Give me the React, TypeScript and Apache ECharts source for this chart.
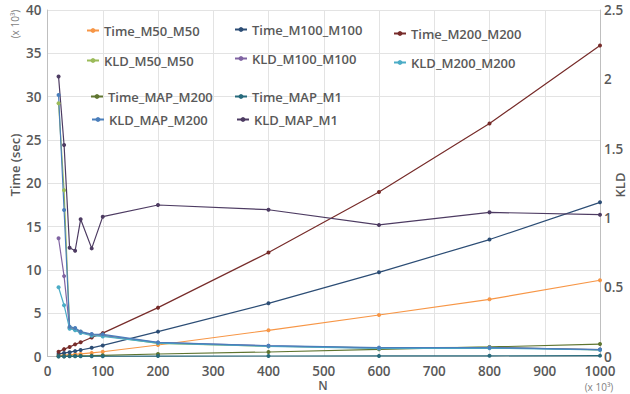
import React, { useEffect, useRef } from "react";
import * as echarts from "echarts";

// Problem size N (x 10^3)
const nValues = [20, 30, 40, 50, 60, 80, 100, 200, 400, 600, 800, 1000];

// Run times (x 10^3 sec), left axis
const timeM50 = [0.1, 0.15, 0.2, 0.25, 0.3, 0.42, 0.55, 1.33, 3.02, 4.79, 6.6, 8.8];
const timeM100 = [0.3, 0.4, 0.5, 0.62, 0.75, 1.0, 1.28, 2.87, 6.14, 9.72, 13.5, 17.8];
const timeM200 = [0.55, 0.85, 1.1, 1.4, 1.65, 2.2, 2.7, 5.64, 12.0, 19.0, 26.9, 35.9];
const timeMapM200 = [0.03, 0.04, 0.05, 0.06, 0.08, 0.1, 0.14, 0.29, 0.52, 0.83, 1.1, 1.44];
const timeMapM1 = [0.01, 0.01, 0.02, 0.02, 0.02, 0.03, 0.03, 0.05, 0.06, 0.07, 0.08, 0.1];

// KL divergence, right axis
const kldM50 = [1.827, 1.2, 0.21, 0.2, 0.178, 0.155, 0.15, 0.095, 0.074, 0.062, 0.066, 0.048];
const kldM100 = [0.853, 0.58, 0.205, 0.195, 0.175, 0.158, 0.152, 0.1, 0.077, 0.06, 0.065, 0.05];
const kldM200 = [0.5, 0.37, 0.2, 0.19, 0.17, 0.15, 0.145, 0.097, 0.073, 0.058, 0.06, 0.047];
const kldMapM200 = [1.887, 1.057, 0.215, 0.205, 0.18, 0.162, 0.16, 0.102, 0.078, 0.064, 0.064, 0.05];
const kldMapM1 = [2.02, 1.526, 0.785, 0.763, 0.99, 0.78, 1.009, 1.093, 1.059, 0.949, 1.04, 1.023];

// Axis ranges
const timeMax = 40;
const timeStep = 5;
const kldMax = 2.5;
const kldStep = 0.5;
const nMax = 1000;
const nStep = 100;

const FONT = "'Open Sans', 'Noto Sans', sans-serif";
const GREY = "#595959";

function lineSeries(name: string, values: number[], color: string, yAxisIndex: number) {
  return {
    name,
    type: "line",
    yAxisIndex,
    data: nValues.map((n, i) => [n, values[i]]),
    symbol: "circle",
    symbolSize: 4,
    showSymbol: true,
    lineStyle: { width: 1.2, color },
    itemStyle: { color },
    emphasis: { disabled: true },
  };
}

export default function App() {
  const ref = useRef<HTMLDivElement>(null);

  useEffect(() => {
    if (!ref.current) return;
    const chart = echarts.init(ref.current, null, { renderer: "svg" });

    const legendText = { fontFamily: FONT, fontSize: 13, fontWeight: 600, color: GREY };
    const legendAt = (name: string, left: number, top: number) => ({
      data: [name],
      left,
      top,
      itemWidth: 12,
      itemHeight: 6,
      padding: 0,
      textStyle: legendText,
    });

    const axisLabel = { fontFamily: FONT, fontSize: 13.5, fontWeight: 600, color: GREY, lineHeight: 14 };
    const axisLine = { show: true, lineStyle: { color: "#BFBFBF", width: 1 } };
    const grid = { show: true, lineStyle: { color: "#E3E3E3", width: 1 } };
    const plain = (v: number) => String(v);

    chart.setOption({
      animation: false,
      backgroundColor: "#ffffff",
      grid: { left: 47.5, right: 30, top: 10, bottom: 37.5 },
      legend: [
        legendAt("Time_M50_M50", 86, 24),
        legendAt("Time_M100_M100", 234, 23),
        legendAt("Time_M200_M200", 393, 27),
        legendAt("KLD_M50_M50", 86, 54),
        legendAt("KLD_M100_M100", 234, 52),
        legendAt("KLD_M200_M200", 393, 56),
        legendAt("Time_MAP_M200", 90, 90),
        legendAt("Time_MAP_M1", 234, 90),
        legendAt("KLD_MAP_M200", 91, 113),
        legendAt("KLD_MAP_M1", 236, 113),
      ],
      xAxis: {
        type: "value",
        min: 0,
        max: nMax,
        interval: nStep,
        axisLine,
        axisTick: { show: false },
        axisLabel: { ...axisLabel, margin: 7, formatter: plain },
        splitLine: grid,
      },
      yAxis: [
        {
          type: "value",
          min: 0,
          max: timeMax,
          interval: timeStep,
          axisLine,
          axisTick: { show: false },
          axisLabel: { ...axisLabel, margin: 6, formatter: plain },
          splitLine: grid,
        },
        {
          type: "value",
          min: 0,
          max: kldMax,
          interval: kldStep,
          position: "right",
          axisLine,
          axisTick: { show: false },
          axisLabel: { ...axisLabel, margin: 4, formatter: plain },
          splitLine: { show: false },
        },
      ],
      graphic: [
        {
          type: "text",
          x: 15,
          y: 165,
          rotation: Math.PI / 2,
          style: { text: "Time (sec)", align: "center", verticalAlign: "middle", font: `600 13px ${FONT}`, fill: GREY },
        },
        {
          type: "text",
          x: 15,
          y: 24,
          rotation: Math.PI / 2,
          style: { text: "(x 10³)", align: "center", verticalAlign: "middle", font: `10px ${FONT}`, fill: "#7F7F7F" },
        },
        {
          type: "text",
          x: 620,
          y: 185,
          rotation: Math.PI / 2,
          style: { text: "KLD", align: "center", verticalAlign: "middle", font: `600 13px ${FONT}`, fill: GREY },
        },
        {
          type: "text",
          x: 323,
          y: 385,
          style: { text: "N", align: "center", verticalAlign: "middle", font: `600 12px ${FONT}`, fill: GREY, lineHeight: 12 },
        },
        {
          type: "text",
          x: 599,
          y: 387,
          style: { text: "(x 10³)", align: "center", verticalAlign: "middle", font: `10px ${FONT}`, fill: "#7F7F7F", lineHeight: 10 },
        },
      ],
      series: [
        lineSeries("Time_M50_M50", timeM50, "#F79646", 0),
        lineSeries("Time_M100_M100", timeM100, "#2C4D75", 0),
        lineSeries("Time_M200_M200", timeM200, "#772C2A", 0),
        lineSeries("Time_MAP_M200", timeMapM200, "#5F7530", 0),
        lineSeries("Time_MAP_M1", timeMapM1, "#276A7C", 0),
        lineSeries("KLD_M50_M50", kldM50, "#9BBB59", 1),
        lineSeries("KLD_M100_M100", kldM100, "#8064A2", 1),
        lineSeries("KLD_M200_M200", kldM200, "#4BACC6", 1),
        lineSeries("KLD_MAP_M200", kldMapM200, "#4A7EBB", 1),
        lineSeries("KLD_MAP_M1", kldMapM1, "#4D3B62", 1),
      ],
    });

    return () => chart.dispose();
  }, []);

  return (
    <div
      ref={ref}
      style={{ position: "absolute", left: 0, top: 0, width: 630, height: 394 }}
    />
  );
}
